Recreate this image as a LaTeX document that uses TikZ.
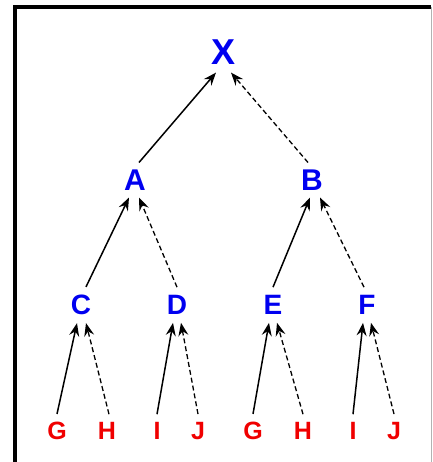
\documentclass[tikz,border=0pt]{standalone}
\usepackage{fontspec}
\setmainfont{Liberation Sans}
\usepackage{tikz}
\usetikzlibrary{arrows.meta}
\definecolor{nodeblue}{RGB}{0,0,240}
\definecolor{leafred}{RGB}{240,0,0}

\tikzset{
  rootlabel/.style={nodeblue, font=\fontsize{36}{36}\selectfont\bfseries, inner sep=8pt},
  midlabel/.style={nodeblue, font=\fontsize{30}{30}\selectfont\bfseries, inner sep=7pt},
  lowlabel/.style={nodeblue, font=\fontsize{28}{28}\selectfont\bfseries, inner sep=8pt},
  leaflabel/.style={leafred, font=\fontsize{25}{25}\selectfont\bfseries, inner sep=8pt},
  firstarc/.style={-{Stealth[length=13pt, width=10pt, inset=4.5pt]}, line width=1.5pt},
  secondarc/.style={firstarc, dashed, dash pattern=on 5pt off 3pt, line width=1.3pt}
}

\begin{document}
\begin{tikzpicture}[x=1pt, y=-1pt]
\useasboundingbox (0,0) rectangle (432,462);

% frame
\draw[gray!60, line width=1pt] (431,7) -- (431,462);
\draw[line width=3.2pt] (15,462) -- (15,7) -- (431,7);

% top of the tree
\node[rootlabel] (X) at (224,52) {X};
\node[midlabel] (A) at (135,180) {A}; \node[midlabel] (B) at (312,180) {B};

% second row
\node[lowlabel] (C) at (81,305) {C};  \node[lowlabel] (D) at (177,305) {D};
\node[lowlabel] (E) at (273,305) {E}; \node[lowlabel] (F) at (367,305) {F};

% leaves
\node[leaflabel] (G1) at (57,431) {G};  \node[leaflabel] (H1) at (107,431) {H};
\node[leaflabel] (I1) at (157,431) {I}; \node[leaflabel] (J1) at (198,431) {J};
\node[leaflabel] (G2) at (253,431) {G}; \node[leaflabel] (H2) at (303,431) {H};
\node[leaflabel] (I2) at (353,431) {I}; \node[leaflabel] (J2) at (394,431) {J};

% arcs
\draw[firstarc] ([xshift=4pt]A.north) -- ([xshift=-8pt]X.south);
\draw[secondarc] ([xshift=-4pt]B.north) -- ([xshift=7pt]X.south);
\draw[firstarc] ([xshift=5pt]C.north) -- ([xshift=-6pt]A.south);
\draw[secondarc] (D.north) -- ([xshift=4pt]A.south);
\draw[firstarc] (E.north) -- ([xshift=-2pt]B.south);
\draw[secondarc] ([xshift=-3pt]F.north) -- ([xshift=8pt]B.south);
\draw[firstarc] (G1.north) -- ([xshift=-4pt]C.south);
\draw[secondarc] ([xshift=2pt]H1.north) -- ([xshift=5pt]C.south);
\draw[firstarc] (I1.north) -- ([xshift=-4pt]D.south);
\draw[secondarc] (J1.north) -- ([xshift=4pt]D.south);
\draw[firstarc] (G2.north) -- ([xshift=-4pt]E.south);
\draw[secondarc] (H2.north) -- ([xshift=4pt]E.south);
\draw[firstarc] (I2.north) -- ([xshift=-4pt]F.south);
\draw[secondarc] (J2.north) -- ([xshift=4pt]F.south);

\end{tikzpicture}
\end{document}
